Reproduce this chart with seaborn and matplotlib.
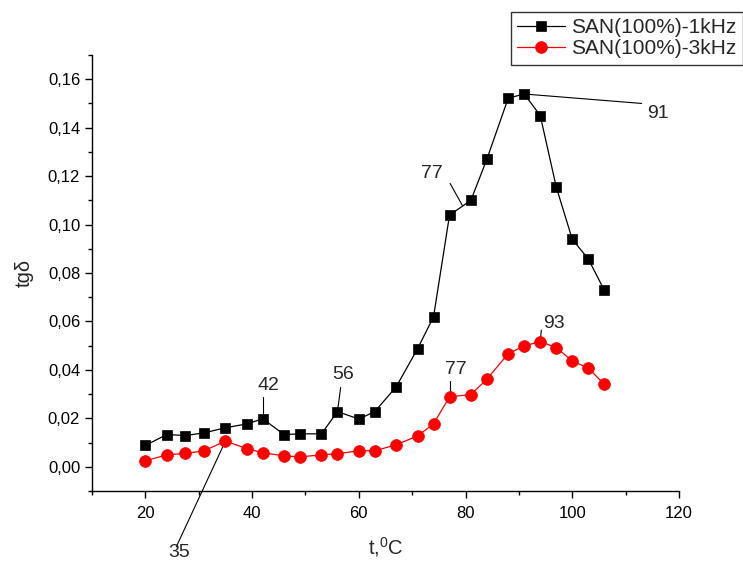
import matplotlib
matplotlib.use("Agg")
import matplotlib.pyplot as plt
import seaborn as sns
import numpy as np
import pandas as pd
from matplotlib.ticker import MultipleLocator, FuncFormatter

# ---- data ----
temp = [20, 24, 27.5, 31, 35, 39, 42, 46, 49, 53, 56, 60, 63, 67, 71, 74,
        77, 81, 84, 88, 91, 94, 97, 100, 103, 106]
tg_1khz = [0.0088, 0.0133, 0.0129, 0.0140, 0.0161, 0.0177, 0.0198, 0.0133,
           0.0136, 0.0136, 0.0228, 0.0197, 0.0228, 0.0330, 0.0487, 0.0619,
           0.1039, 0.1100, 0.1270, 0.1522, 0.1539, 0.1450, 0.1155, 0.0939,
           0.0858, 0.0729]
tg_3khz = [0.0025, 0.0049, 0.0055, 0.0066, 0.0106, 0.0075, 0.0058, 0.0045,
           0.0041, 0.0049, 0.0054, 0.0066, 0.0066, 0.0091, 0.0127, 0.0177,
           0.0289, 0.0298, 0.0362, 0.0467, 0.0499, 0.0517, 0.0492, 0.0437,
           0.0407, 0.0341]
series_labels = ["SAN(100%)-1kHz", "SAN(100%)-3kHz"]
x_label = r"t,$^\mathregular{0}$C"
y_label = "tgδ"

# annotations: text, text position, leader line start, leader line end
annotations = [
    ("42", (43.0, 0.0334), (42.0, 0.0288), (42.0, 0.0198)),
    ("56", (57.0, 0.0380), (56.6, 0.0328), (56.0, 0.0228)),
    ("77", (73.6, 0.1212), (77.1, 0.1170), (79.4, 0.1079)),
    ("91", (116.0, 0.1460), (113.0, 0.1500), (91.0, 0.1539)),
    ("77", (78.1, 0.0400), (77.0, 0.0355), (77.0, 0.0289)),
    ("93", (96.5, 0.0590), (94.2, 0.0564), (94.0, 0.0517)),
    ("35", (26.4, -0.0355), (25.8, -0.0330), (35.0, 0.0106)),
]

sns.set_style("ticks")
plt.rcParams["font.family"] = ["Liberation Sans", "DejaVu Sans"]
plt.rcParams["mathtext.default"] = "regular"

fig = plt.figure(figsize=(7.43, 5.64), dpi=100)
ax = fig.add_axes([92 / 743, 1 - 491 / 564, (679 - 92) / 743, (491 - 55) / 564])

df = pd.DataFrame({"t": temp, "a": tg_1khz, "b": tg_3khz})
sns.lineplot(data=df, x="t", y="a", ax=ax, color="black", lw=0.9,
             marker="s", markersize=7, markerfacecolor="black",
             markeredgecolor="black", markeredgewidth=0.5,
             label=series_labels[0])
sns.lineplot(data=df, x="t", y="b", ax=ax, color="red", lw=0.9,
             marker="o", markersize=8.5, markerfacecolor="red",
             markeredgecolor="red", markeredgewidth=0.5,
             label=series_labels[1])

ax.set_xlim(10, 120)
ax.set_ylim(-0.01, 0.17)
ax.xaxis.set_major_locator(MultipleLocator(20))
ax.xaxis.set_minor_locator(MultipleLocator(10))
ax.yaxis.set_major_locator(MultipleLocator(0.02))
ax.yaxis.set_minor_locator(MultipleLocator(0.01))
ax.set_xticks([20, 40, 60, 80, 100, 120])
ax.yaxis.set_major_formatter(FuncFormatter(lambda v, p: f"{v:.2f}".replace(".", ",")))
ax.tick_params(axis="both", which="major", direction="out", length=5, width=1,
               labelsize=12, color="black", labelcolor="black")
ax.tick_params(axis="x", which="major", pad=6)
ax.tick_params(axis="both", which="minor", direction="out", length=3, width=1,
               color="black")
for s in ["top", "right"]:
    ax.spines[s].set_visible(False)
for s in ["left", "bottom"]:
    ax.spines[s].set_color("black")
    ax.spines[s].set_linewidth(1.0)

ax.set_xlabel(x_label, fontsize=14.5, labelpad=10)
ax.set_ylabel(y_label, fontsize=14.5, labelpad=10)

for txt, tpos, l0, l1 in annotations:
    ax.plot([l0[0], l1[0]], [l0[1], l1[1]], color="black", lw=0.8,
            clip_on=False, zorder=1)
    ax.text(tpos[0], tpos[1], txt, fontsize=14, ha="center", va="center",
            clip_on=False)

leg = ax.legend(loc="upper right", bbox_to_anchor=(1.0, 1 - 12 / 564),
                bbox_transform=fig.transFigure, fontsize=15, frameon=True,
                fancybox=False, shadow=False, borderpad=0.3, labelspacing=0.1,
                handlelength=2.3, handletextpad=0.3, borderaxespad=0)
leg.get_frame().set_edgecolor("black")
leg.get_frame().set_linewidth(1.0)

fig.savefig("out.png", dpi=100)
